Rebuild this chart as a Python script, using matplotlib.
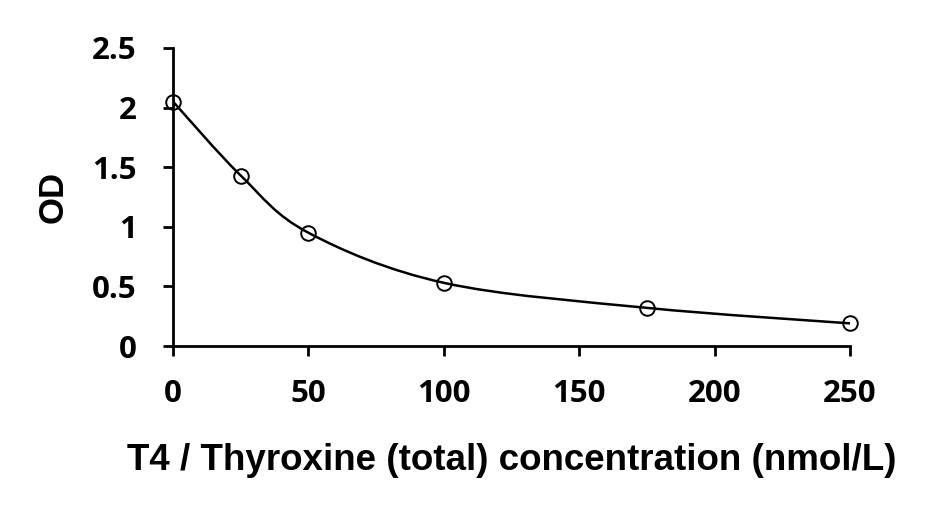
import matplotlib
matplotlib.use('Agg')
import matplotlib.pyplot as plt
from matplotlib.path import Path
from matplotlib.patches import PathPatch

# standard curve readings
conc = [0, 25, 50, 100, 175, 250]
od = [2.05, 1.43, 0.95, 0.53, 0.32, 0.19]

x_ticks = [0, 50, 100, 150, 200, 250]
y_ticks = [0, 0.5, 1, 1.5, 2, 2.5]
y_labels = ['0', '0.5', '1', '1.5', '2', '2.5']


# Excel style smoothed line: cubic bezier segments with catmull-rom control points
def smooth_path(xs, ys):
    verts = [(xs[0], ys[0])]
    codes = [Path.MOVETO]
    n = len(xs)
    for i in range(n - 1):
        x0, y0 = (xs[i - 1], ys[i - 1]) if i > 0 else (xs[i], ys[i])
        x3, y3 = (xs[i + 2], ys[i + 2]) if i + 2 < n else (xs[i + 1], ys[i + 1])
        c1 = (xs[i] + (xs[i + 1] - x0) / 6, ys[i] + (ys[i + 1] - y0) / 6)
        c2 = (xs[i + 1] - (x3 - xs[i]) / 6, ys[i + 1] - (y3 - ys[i]) / 6)
        verts += [c1, c2, (xs[i + 1], ys[i + 1])]
        codes += [Path.CURVE4] * 3
    return Path(verts, codes)


fig = plt.figure(figsize=(9.44, 5.13), dpi=100)
ax = fig.add_axes([0.1833, 0.3255, 0.7172, 0.581])

ax.add_patch(PathPatch(smooth_path(conc, od), facecolor='none',
                       edgecolor='black', lw=1.8, zorder=2))
ax.plot(conc, od, linestyle='none', marker='o', markersize=10.5,
        markerfacecolor='none', markeredgecolor='black', mew=1.4, zorder=3,
        clip_on=False)

ax.set_xlim(0, 250)
ax.set_ylim(0, 2.5)
ax.set_xticks(x_ticks)
ax.set_xticklabels([str(t) for t in x_ticks])
ax.set_yticks(y_ticks)
ax.set_yticklabels(y_labels)

for s in ['top', 'right']:
    ax.spines[s].set_visible(False)
for s in ['left', 'bottom']:
    ax.spines[s].set_linewidth(2)
ax.tick_params(axis='x', direction='out', length=7, width=2, pad=17)
ax.tick_params(axis='y', direction='out', length=7, width=2, pad=19)
for lab in ax.get_xticklabels() + ax.get_yticklabels():
    lab.set_fontfamily('Open Sans')
    lab.set_fontweight('bold')
    lab.set_fontsize(22.5)

ax.set_xlabel('T4 / Thyroxine (total) concentration (nmol/L)',
              fontfamily='Liberation Sans', fontweight='bold', fontsize=26.5,
              labelpad=24)
ax.set_ylabel('OD', fontfamily='Liberation Sans', fontweight='bold',
              fontsize=25, labelpad=16)

fig.savefig('out.png', dpi=100)
